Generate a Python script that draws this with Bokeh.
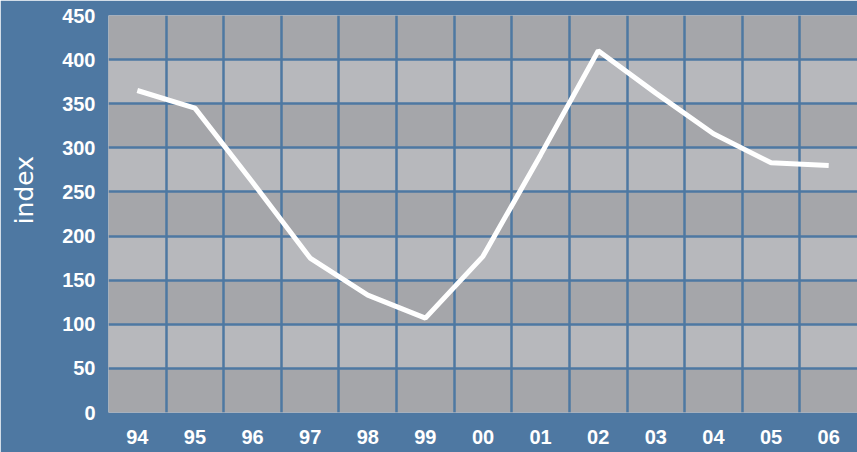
from bokeh.plotting import figure
from bokeh.models import FixedTicker, Range1d
from bokeh.embed import file_html
from bokeh.resources import INLINE

# data
years = ["94", "95", "96", "97", "98", "99", "00", "01", "02", "03", "04", "05", "06"]
index_values = [365, 345, 261, 175, 133, 107, 177, 292, 410, 362, 316, 283, 280]
y_ticks = [0, 50, 100, 150, 200, 250, 300, 350, 400, 450]

BLUE = "#4e78a2"
DARK = "#a5a6aa"
LIGHT = "#b7b8bc"

xs = list(range(len(years)))

p = figure(width=857, height=452, output_backend="svg", toolbar_location=None,
           x_range=Range1d(-0.5, len(years) - 0.5), y_range=Range1d(0, 450),
           min_border_left=108, min_border_top=15, min_border_bottom=40, min_border_right=0)

p.background_fill_color = DARK
p.border_fill_color = BLUE
p.outline_line_color = None

p.line(xs, index_values, line_color="white", line_width=5)

# axes
p.xaxis.ticker = FixedTicker(ticks=xs)
p.xaxis.major_label_overrides = {i: y for i, y in enumerate(years)}
p.yaxis.ticker = FixedTicker(ticks=y_ticks)
for ax in (p.xaxis[0], p.yaxis[0]):
    ax.axis_line_color = None
    ax.major_tick_line_color = None
    ax.minor_tick_line_color = None
    ax.major_tick_out = 0
    ax.major_tick_in = 0
    ax.major_label_text_color = "white"
    ax.major_label_text_font = "Liberation Sans"
    ax.major_label_text_font_style = "bold"
    ax.major_label_text_font_size = "20px"
p.xaxis.major_label_standoff = 17
p.yaxis.major_label_standoff = 13

p.yaxis.axis_label = "\u00a0" * 6 + "index"
p.yaxis.axis_label_text_color = "white"
p.yaxis.axis_label_text_font = "DejaVu Sans"
p.yaxis.axis_label_text_font_style = "normal"
p.yaxis.axis_label_text_font_size = "25px"
p.yaxis.axis_label_standoff = 20

# grids
p.ygrid.ticker = FixedTicker(ticks=y_ticks)
p.ygrid.grid_line_color = BLUE
p.ygrid.grid_line_width = 2.5
p.ygrid.band_fill_color = LIGHT
p.ygrid.band_fill_alpha = 1.0
p.ygrid.level = "image"

p.xgrid.ticker = FixedTicker(ticks=[i + 0.5 for i in xs[:-1]])
p.xgrid.grid_line_color = BLUE
p.xgrid.grid_line_width = 2.5
p.xgrid.level = "underlay"

open("out.html", "w").write(file_html(p, INLINE))
